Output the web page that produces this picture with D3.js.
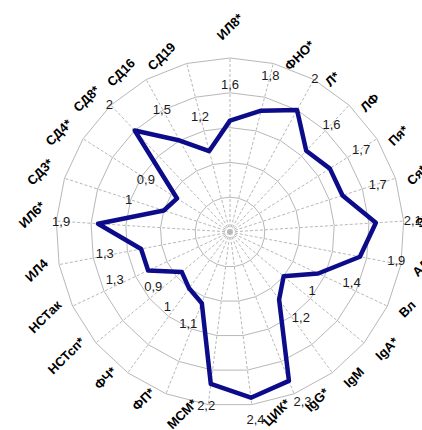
<!DOCTYPE html>
<html lang="ru">
<head>
<meta charset="UTF-8">
<title>Radar</title>
<script src="https://d3js.org/d3.v7.min.js"></script>
<style>
  body { margin: 0; background: #fff; }
  svg { display: block; }
  .cat { font: bold 13px "Liberation Sans", Arial, sans-serif; fill: #000; }
  .val { font: 13px "Liberation Sans", Arial, sans-serif; fill: #1a1a1a; }
</style>
</head>
<body>
<svg id="chart" width="422" height="430"></svg>
<script>
// categories clockwise from the top
const categories = ["ИЛ8*", "ФНО*", "Л*", "ЛФ", "Пя*", "Ся*", "Э*", "АЛ", "Вл", "IgA*", "IgM",
  "IgG*", "ЦИК*", "МСМ*", "ФП*", "ФЧ*", "НСТсп*", "НСТак", "ИЛ4", "ИЛ6*",
  "СД3*", "СД4*", "СД8*", "СД16", "СД19"];
const values = [1.6, 1.8, 2, 1.6, 1.7, 1.7, 2.1, 1.9, 1.4, 1, 1.2,
  2.3, 2.4, 2.2, 1.1, 1, 0.9, 1.3, 1.3, 1.9,
  1, 0.9, 2, 1.5, 1.2];
const ringTicks = [0.5, 1, 1.5, 2, 2.5];

const svg = d3.select("#chart");
const cx = 230, cy = 232, R = 174;
const g = svg.append("g").attr("transform", `translate(${cx},${cy})`);

const r = d3.scaleLinear().domain([0, 2.5]).range([0, R]);
const angle = d3.scaleLinear().domain([0, categories.length]).range([0, 2 * Math.PI]);
const idx = d3.range(categories.length);

const px = (a, rad) => [Math.sin(a) * rad, -Math.cos(a) * rad];

// grid rings (polygons)
const ringLine = d3.lineRadial()
  .angle(i => angle(i))
  .curve(d3.curveLinearClosed);

g.selectAll(".ring")
  .data(ringTicks)
  .enter().append("path")
    .attr("class", "ring")
    .attr("d", t => ringLine.radius(() => r(t))(idx))
    .attr("fill", "none")
    .attr("stroke", "#b8b8b8")
    .attr("stroke-width", 1);

// spokes
g.selectAll(".spoke")
  .data(idx)
  .enter().append("line")
    .attr("class", "spoke")
    .attr("x1", 0).attr("y1", 0)
    .attr("x2", i => px(angle(i), r(2.5))[0])
    .attr("y2", i => px(angle(i), r(2.5))[1])
    .attr("stroke", "#b8b8b8")
    .attr("stroke-width", 1)
    .attr("stroke-dasharray", "3,2");

// data polygon
const dataLine = d3.lineRadial()
  .angle((d, i) => angle(i))
  .radius(d => r(d))
  .curve(d3.curveLinearClosed);

g.append("path")
  .datum(values)
  .attr("d", dataLine)
  .attr("fill", "none")
  .attr("stroke", "#0c0c8a")
  .attr("stroke-width", 4.5)
  .attr("stroke-linejoin", "round");

// value labels, pushed outward from each point (less below the centre)
const valPos = (d, i) => {
  const a = angle(i), [x, y] = px(a, r(d));
  const c = Math.cos(a);
  return [x + Math.sin(a) * 37, y - c * (c > 0 ? 36 : 22)];
};

g.selectAll(".val")
  .data(values)
  .enter().append("text")
    .attr("class", "val")
    .attr("text-anchor", "middle")
    .attr("dy", "0.35em")
    .attr("x", (d, i) => valPos(d, i)[0])
    .attr("y", (d, i) => valPos(d, i)[1])
    .text(d => String(d).replace(".", ","));

// category labels rotated -45deg, placed beside the end of each spoke
const cats = g.selectAll(".cat")
  .data(categories)
  .enter().append("text")
    .attr("class", "cat")
    .attr("text-anchor", "middle")
    .attr("dy", "0.35em")
    .text(d => d);

cats.each(function(d, i) {
  const a = angle(i);
  const [ex, ey] = px(a, R);
  const L = this.getComputedTextLength();
  const box = (L + 10) / Math.SQRT2;
  const s = Math.sin(a), c = Math.cos(a);
  let x, y;
  if (Math.abs(s) < 0.05) {
    x = ex;
    y = ey - 17 - box / 2;
  } else {
    x = ex + Math.sign(s) * (10 + box / 2);
    y = c > 0 ? ey + 8 - box / 2 : ey - 7 + box / 2;
  }
  d3.select(this).attr("transform", `translate(${x},${y}) rotate(-45)`);
});
</script>
</body>
</html>
